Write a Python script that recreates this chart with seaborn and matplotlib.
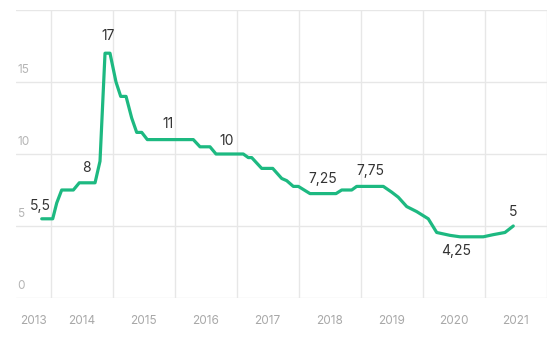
import matplotlib
matplotlib.use("Agg")
import matplotlib.pyplot as plt
import seaborn as sns
import pandas as pd

# Data (x in decimal years, rate in %)
years = [2013.855, 2014.032, 2014.097, 2014.177, 2014.365, 2014.461, 2014.715, 2014.795,
         2014.876, 2014.956, 2015.053, 2015.129, 2015.215, 2015.306, 2015.387, 2015.468,
         2015.558, 2016.300, 2016.408, 2016.569, 2016.666, 2017.106, 2017.187, 2017.242,
         2017.403, 2017.581, 2017.726, 2017.806, 2017.913, 2017.994, 2018.182, 2018.602,
         2018.694, 2018.855, 2018.935, 2019.365, 2019.500, 2019.606, 2019.742, 2019.903,
         2020.090, 2020.226, 2020.440, 2020.602, 2020.977, 2021.139, 2021.327, 2021.461]
rates = [5.5, 5.5, 6.6, 7.5, 7.5, 8.0, 8.0, 9.5,
         17.0, 17.0, 15.0, 14.0, 14.0, 12.5, 11.5, 11.5,
         11.0, 11.0, 10.5, 10.5, 10.0, 10.0, 9.75, 9.75,
         9.0, 9.0, 8.3, 8.15, 7.75, 7.75, 7.25, 7.25,
         7.5, 7.5, 7.75, 7.75, 7.35, 7.0, 6.35, 6.0,
         5.5, 4.55, 4.35, 4.25, 4.25, 4.4, 4.55, 5.0]

ann_labels = ["5,5", "8", "17", "11", "10", "7,25", "7,75", "4,25", "5"]
ann_x = [2013.83, 2014.58, 2014.93, 2015.89, 2016.84, 2018.38, 2019.15, 2020.54, 2021.46]
ann_y = [6.39, 9.0, 18.2, 12.08, 10.92, 8.24, 8.84, 3.28, 5.97]

year_labels = ["2013", "2014", "2015", "2016", "2017", "2018", "2019", "2020", "2021"]
year_label_pos = [2013.72, 2014.5, 2015.5, 2016.5, 2017.5, 2018.5, 2019.5, 2020.5, 2021.5]
year_grid = [2014, 2015, 2016, 2017, 2018, 2019, 2020, 2021, 2022]
y_ticks = [0, 5, 10, 15, 20]
y_tick_labels = ["0", "5", "10", "15", ""]

sns.set_theme(style="white")
plt.rcParams['font.family'] = ['Inter', 'DejaVu Sans']

df = pd.DataFrame({"year": years, "rate": rates})

fig = plt.figure(figsize=(5.58, 3.41), dpi=100)
ax = fig.add_axes([16/558, 1 - 298/341, (547 - 16)/558, (298 - 10)/341])

sns.lineplot(data=df, x="year", y="rate", ax=ax, color="#1db981", linewidth=2.3,
             solid_joinstyle="round", solid_capstyle="round", zorder=3)

xmin, xmax = 2013.44, 2022.005
ax.set_xlim(xmin, xmax)
ax.set_ylim(0, 20)

grid_c = "#e7e7e7"
for v in y_ticks:
    ax.axhline(v, color=grid_c, linewidth=1.0, zorder=1)
for g in year_grid:
    ax.axvline(g, color=grid_c, linewidth=1.0, zorder=1)

for s in ax.spines.values():
    s.set_visible(False)
ax.set_xticks([])
ax.set_yticks([])
ax.set_xlabel("")
ax.set_ylabel("")

for v, lab in zip(y_ticks, y_tick_labels):
    if lab:
        ax.text(xmin + 0.02, v + 0.45, lab, ha="left", va="bottom",
                fontsize=8.5, color="#b5b5b5")

for lab, xp in zip(year_labels, year_label_pos):
    ax.text(xp, -1.6, lab, ha="center", va="center", fontsize=8.5,
            color="#a8a8a8", clip_on=False)

for lab, xp, yp in zip(ann_labels, ann_x, ann_y):
    ax.text(xp, yp, lab, ha="center", va="center", fontsize=10, color="#333333")

fig.savefig("out.png", dpi=100)
